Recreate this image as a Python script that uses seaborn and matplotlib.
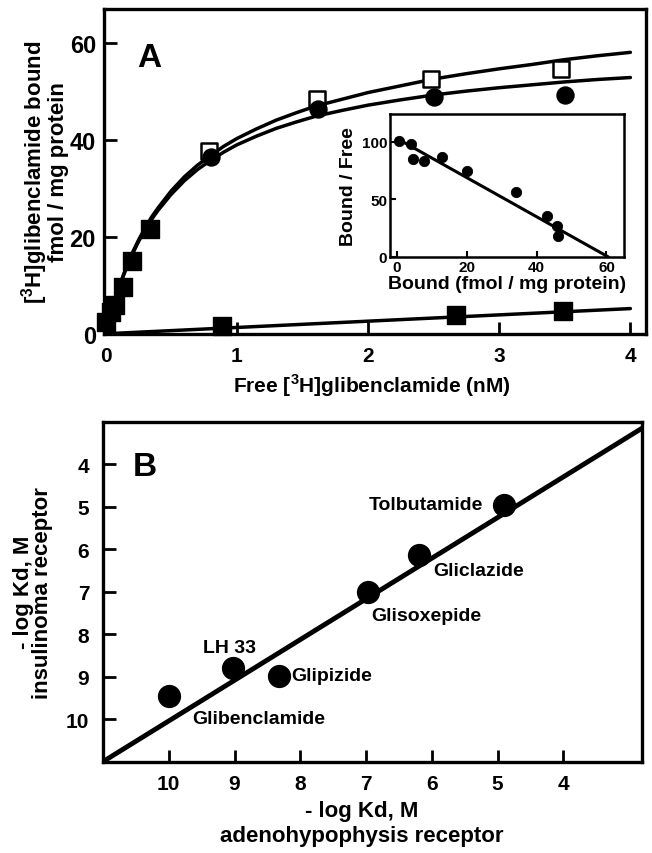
import numpy as np
import pandas as pd
import matplotlib
matplotlib.use("Agg")
import matplotlib.pyplot as plt
import seaborn as sns
from matplotlib import font_manager

# ---- panel A: saturation binding (free nM vs bound fmol/mg protein) ----
total_free = [0.79, 1.61, 2.48, 3.47]
total_bound = [37.7, 48.5, 52.6, 54.6]
specific_free = [0.80, 1.62, 2.50, 3.50]
specific_bound = [36.5, 46.5, 48.8, 49.3]
low_free = [0.0, 0.04, 0.07, 0.13, 0.20, 0.34]
low_bound = [2.5, 4.5, 6.0, 9.7, 15.1, 21.6]
nonspec_free = [0.89, 2.67, 3.49]
nonspec_bound = [1.6, 3.8, 4.7]

# fitted curves
curve_free = [0, 0.05, 0.1, 0.15, 0.2, 0.25, 0.3, 0.35, 0.4, 0.5, 0.6, 0.7, 0.8, 0.9, 1.0,
              1.15, 1.3, 1.45, 1.6, 1.8, 2.0, 2.25, 2.5, 2.75, 3.0, 3.25, 3.5, 3.75, 4.0]
specific_curve = [0, 5.1, 9.4, 13.0, 16.2, 19.0, 21.4, 23.6, 25.5, 28.8, 31.6, 33.9, 35.8,
                  37.5, 39.0, 40.8, 42.4, 43.7, 44.9, 46.1, 47.2, 48.3, 49.3, 50.1, 50.8,
                  51.4, 52.0, 52.5, 52.9]
total_curve = [0, 5.2, 9.5, 13.2, 16.5, 19.3, 21.8, 24.1, 26.0, 29.5, 32.4, 34.8, 36.8,
               38.7, 40.3, 42.3, 44.1, 45.6, 47.0, 48.4, 49.8, 51.2, 52.6, 53.7, 54.7,
               55.6, 56.6, 57.4, 58.1]
nonspec_line_free = [0, 4.0]
nonspec_line_bound = [0, 5.2]

# inset: Scatchard plot
scatchard_bound = [0.6, 3.9, 4.5, 7.9, 13.0, 20.0, 34.0, 43.0, 45.7, 46.0]
scatchard_ratio = [101, 98, 85, 83, 87, 75, 56.5, 36, 27, 18]
scatchard_line_x = [0, 60.5]
scatchard_line_y = [103, 0]

# ---- panel B: -log Kd comparison ----
drugs = ["Glibenclamide", "LH 33", "Glipizide", "Glisoxepide", "Gliclazide", "Tolbutamide"]
adeno_pkd = [10.0, 9.02, 8.32, 6.97, 6.19, 4.9]
insul_pkd = [9.45, 8.79, 8.98, 7.0, 6.13, 4.95]
corr_line_x = [11.0, 2.8]
corr_line_y = [11.0, 3.15]

sns.set_style("ticks")
names = {f.name for f in font_manager.fontManager.ttflist}
narrow = "Liberation Sans Narrow" if "Liberation Sans Narrow" in names else "Liberation Sans"
plt.rcParams["font.family"] = [narrow, "DejaVu Sans"]
plt.rcParams["font.weight"] = "bold"
plt.rcParams["mathtext.fontset"] = "custom"
plt.rcParams["mathtext.bf"] = narrow + ":bold"
plt.rcParams["mathtext.rm"] = narrow + ":bold"
for key in ("text.color", "axes.labelcolor", "xtick.color", "ytick.color", "axes.edgecolor"):
    plt.rcParams[key] = "black"

fig = plt.figure(figsize=(6.52, 8.54), dpi=100)
axA = fig.add_axes([0.160, 0.608, 0.831, 0.380])
axB = fig.add_axes([0.158, 0.107, 0.827, 0.398])
axI = fig.add_axes([0.598, 0.698, 0.359, 0.167])

for ax in (axA, axB):
    for s in ax.spines.values():
        s.set_linewidth(2.4)
    ax.tick_params(direction="in", length=9, width=2)

# panel A
sns.lineplot(x=curve_free, y=total_curve, color="black", lw=2.5, ax=axA)
sns.lineplot(x=curve_free, y=specific_curve, color="black", lw=2.5, ax=axA)
sns.lineplot(x=nonspec_line_free, y=nonspec_line_bound, color="black", lw=2.5, ax=axA)
sns.scatterplot(x=total_free, y=total_bound, marker="s", s=130, facecolor="white",
                edgecolor="black", linewidth=1.8, ax=axA, zorder=3)
sns.scatterplot(x=specific_free, y=specific_bound, marker="o", s=150, color="black",
                edgecolor="black", ax=axA, zorder=4)
sns.scatterplot(x=low_free, y=low_bound, marker="s", s=150, color="black",
                edgecolor="black", ax=axA, zorder=4, clip_on=False)
sns.scatterplot(x=nonspec_free, y=nonspec_bound, marker="s", s=150, color="black",
                edgecolor="black", ax=axA, zorder=4, clip_on=False)
axA.set_xlim(-0.01, 4.12)
axA.set_ylim(0, 67)
axA.set_xticks([0, 1, 2, 3, 4])
axA.set_yticks([0, 20, 40, 60])
axA.tick_params(axis="x", labelsize=15, pad=9)
axA.tick_params(axis="y", labelsize=17, pad=6)
axA.set_xlabel(r"Free [$^{\mathbf{3}}$H]glibenclamide (nM)", fontsize=15, fontweight="bold")
axA.xaxis.set_label_coords(0.494, -0.115)
axA.set_ylabel("[$^{\\mathbf{3}}$H]glibenclamide bound\nfmol / mg protein", fontsize=16,
               fontweight="bold", linespacing=0.85)
axA.yaxis.set_label_coords(-0.066, 0.5)
axA.text(0.06, 0.85, "A", transform=axA.transAxes, fontsize=24, fontweight="bold", va="center")

# inset
for s in axI.spines.values():
    s.set_linewidth(1.8)
sns.lineplot(x=scatchard_line_x, y=scatchard_line_y, color="black", lw=2.2, ax=axI)
sns.scatterplot(x=scatchard_bound, y=scatchard_ratio, marker="o", s=55, color="black",
                edgecolor="black", ax=axI, zorder=3)
axI.set_xlim(-2, 65)
axI.set_ylim(0, 124)
axI.set_xticks([0, 20, 40, 60])
axI.set_yticks([0, 50, 100])
axI.tick_params(direction="in", length=4, width=1.5, labelsize=11, pad=2)
axI.set_xlabel("Bound (fmol / mg protein)", fontsize=14, fontweight="bold", labelpad=1)
axI.set_ylabel("Bound / Free", fontsize=14, fontweight="bold", labelpad=3)

# panel B
sns.lineplot(x=corr_line_x, y=corr_line_y, color="black", lw=3.5, ax=axB)
sns.scatterplot(x=adeno_pkd, y=insul_pkd, marker="o", s=240, color="black",
                edgecolor="black", ax=axB, zorder=3)
axB.set_xlim(11, 2.8)
axB.set_ylim(11, 3)
axB.set_xticks([10, 9, 8, 7, 6, 5, 4])
axB.set_yticks([4, 5, 6, 7, 8, 9, 10])
axB.tick_params(axis="both", labelsize=15)
axB.tick_params(axis="x", pad=9)
axB.tick_params(axis="y", pad=10)
label_pos = {
    "Glibenclamide": (9.65, 9.99, "left"),
    "LH 33": (9.08, 8.32, "center"),
    "Glipizide": (8.14, 8.98, "left"),
    "Glisoxepide": (6.92, 7.56, "left"),
    "Gliclazide": (5.98, 6.5, "left"),
    "Tolbutamide": (5.22, 4.94, "right"),
}
for name in drugs:
    tx, ty, ha = label_pos[name]
    axB.text(tx, ty, name, ha=ha, va="center", fontsize=14, fontweight="bold")
axB.set_xlabel("- log Kd, M\nadenohypophysis receptor", fontsize=16, fontweight="bold",
               linespacing=1.25)
axB.xaxis.set_label_coords(0.479, -0.113)
axB.set_ylabel("- log Kd, M\ninsulinoma receptor", fontsize=16, fontweight="bold",
               linespacing=0.85)
axB.yaxis.set_label_coords(-0.093, 0.5)
axB.text(0.056, 0.868, "B", transform=axB.transAxes, fontsize=24, fontweight="bold", va="center")

fig.savefig("out.png", dpi=100, facecolor="white")
